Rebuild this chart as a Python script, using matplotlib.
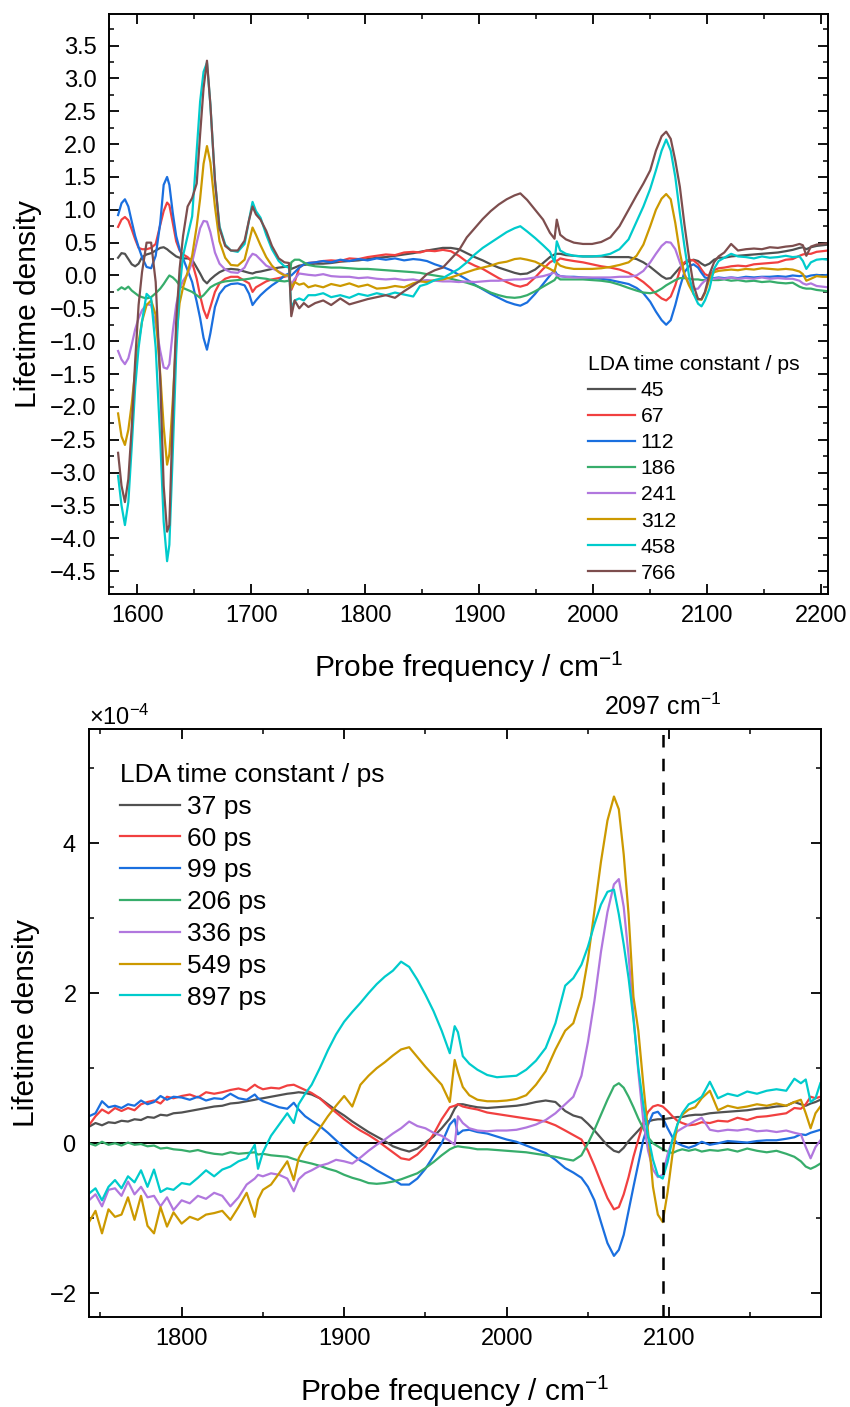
import numpy as np
import matplotlib
matplotlib.use("Agg")
import matplotlib.pyplot as plt
from matplotlib.ticker import MultipleLocator

plt.rcParams['font.family'] = ['Liberation Sans', 'DejaVu Sans']
plt.rcParams['mathtext.fontset'] = 'custom'
plt.rcParams['mathtext.rm'] = 'Liberation Sans'
plt.rcParams['mathtext.it'] = 'Liberation Sans:italic'

# ---------------- top panel data ----------------
freq_top = [1583, 1586, 1589, 1592, 1595, 1598, 1601, 1604, 1608, 1612, 1616, 1620, 1623, 1626, 1628,
            1631, 1634, 1637, 1640, 1644, 1648, 1652, 1655, 1658, 1661, 1664, 1668, 1672, 1677, 1682,
            1688, 1694, 1698, 1701, 1704, 1708, 1713, 1718, 1724, 1729, 1733, 1735, 1738, 1742, 1746,
            1750,
            1756, 1763, 1770, 1778, 1786, 1794, 1802, 1810, 1818, 1826, 1834, 1842, 1848, 1854, 1861,
            1868, 1875, 1882, 1889, 1896, 1903, 1910, 1917, 1924, 1931, 1936, 1942, 1949, 1956, 1962,
            1966, 1968, 1971, 1976, 1983, 1991, 1999, 2007, 2015, 2023, 2031, 2038, 2044, 2050, 2055,
            2060, 2064, 2068, 2072, 2076, 2080, 2084, 2088, 2092, 2095, 2098, 2102, 2106, 2110, 2115,
            2121, 2127, 2134, 2141, 2148, 2155, 2162, 2169, 2175, 2181, 2184, 2187, 2191, 2196, 2201,
            2206]

top_45 = [0.27, 0.34, 0.33, 0.25, 0.17, 0.14, 0.18, 0.28, 0.32, 0.34, 0.38, 0.42, 0.43, 0.40, 0.37,
          0.33, 0.29, 0.27, 0.26, 0.26, 0.24, 0.12, 0.03, -0.07, -0.12, -0.06, 0.00, 0.05, 0.09, 0.10,
          0.09, 0.06, 0.04, 0.03, 0.05, 0.06, 0.08, 0.10, 0.12, 0.13, 0.15, 0.10, 0.12, 0.15, 0.16,
          0.17,
          0.18, 0.18, 0.19, 0.21, 0.22, 0.23, 0.25, 0.27, 0.28, 0.30, 0.32, 0.34, 0.36, 0.38, 0.40,
          0.42, 0.42, 0.40, 0.34, 0.28, 0.23, 0.17, 0.12, 0.08, 0.04, 0.02, 0.03, 0.09, 0.19, 0.28,
          0.32, 0.33, 0.33, 0.31, 0.30, 0.29, 0.29, 0.29, 0.28, 0.28, 0.28, 0.25, 0.20, 0.13, 0.06,
          -0.01, -0.05, -0.04, 0.04, 0.12, 0.18, 0.22, 0.24, 0.22, 0.18, 0.15, 0.18, 0.24, 0.27, 0.27,
          0.29, 0.30, 0.31, 0.32, 0.33, 0.34, 0.35, 0.37, 0.39, 0.42, 0.43, 0.40, 0.43, 0.45, 0.46,
          0.47]
top_67 = [0.74, 0.85, 0.89, 0.84, 0.70, 0.55, 0.42, 0.40, 0.40, 0.42, 0.48, 0.77, 0.98, 1.11, 1.07,
          0.80, 0.52, 0.38, 0.32, 0.28, 0.20, -0.05, -0.31, -0.52, -0.65, -0.48, -0.25, -0.12, -0.05, -0.02,
          -0.02, -0.08, -0.12, -0.25, -0.18, -0.14, -0.09, -0.06, -0.04, -0.02, 0.00, -0.22, -0.10, 0.12, 0.17,
          0.19,
          0.20, 0.22, 0.23, 0.22, 0.26, 0.25, 0.28, 0.30, 0.32, 0.31, 0.35, 0.36, 0.35, 0.38, 0.37,
          0.39, 0.37, 0.30, 0.21, 0.15, 0.10, 0.03, -0.04, -0.10, -0.15, -0.17, -0.14, -0.03, 0.10, 0.20,
          0.24, 0.22, 0.26, 0.24, 0.22, 0.20, 0.17, 0.14, 0.12, 0.09, 0.04, -0.03, -0.10, -0.19, -0.28,
          -0.35, -0.38, -0.32, -0.15, 0.08, 0.20, 0.24, 0.23, 0.17, 0.09, 0.02, -0.01, 0.08, 0.11, 0.12,
          0.14, 0.15, 0.14, 0.17, 0.18, 0.19, 0.20, 0.24, 0.25, 0.30, 0.32, 0.33, 0.33, 0.36, 0.37,
          0.38]
top_112 = [0.92, 1.10, 1.16, 1.05, 0.82, 0.60, 0.43, 0.28, 0.13, 0.11, 0.30, 0.80, 1.38, 1.50, 1.38,
           0.95, 0.60, 0.40, 0.26, 0.08, -0.10, -0.40, -0.65, -0.95, -1.13, -0.88, -0.48, -0.28, -0.17, -0.13,
           -0.12, -0.15, -0.28, -0.45, -0.38, -0.30, -0.22, -0.15, -0.08, 0.00, 0.03, 0.00, 0.05, 0.12, 0.17,
           0.19,
           0.20, 0.22, 0.20, 0.24, 0.22, 0.25, 0.23, 0.26, 0.24, 0.26, 0.23, 0.25, 0.24, 0.22, 0.17,
           0.13, 0.08, 0.01, -0.06, -0.14, -0.21, -0.28, -0.34, -0.40, -0.44, -0.46, -0.41, -0.28, -0.13, 0.00,
           0.08, 0.02, -0.01, -0.02, -0.02, -0.03, -0.04, -0.05, -0.07, -0.10, -0.13, -0.19, -0.27, -0.40, -0.55,
           -0.68, -0.75, -0.68, -0.45, -0.18, 0.05, 0.14, 0.17, 0.12, 0.04, -0.03, -0.05, -0.04, -0.03, -0.04,
           -0.03, -0.04, -0.02, -0.03, -0.02, -0.02, -0.01, -0.02, 0.00, -0.01, 0.00, -0.02, 0.00, 0.01, 0.00,
           0.01]
top_186 = [-0.22, -0.18, -0.21, -0.17, -0.23, -0.27, -0.31, -0.33, -0.35, -0.33, -0.27, -0.20, -0.13, -0.05, 0.00,
           -0.03, -0.08, -0.15, -0.19, -0.22, -0.25, -0.30, -0.34, -0.30, -0.24, -0.18, -0.14, -0.11, -0.09, -0.08,
           -0.07, -0.06, -0.05, -0.04, -0.03, -0.04, -0.05, -0.07, -0.08, -0.09, -0.08, 0.20, 0.24, 0.24, 0.20,
           0.16,
           0.14, 0.13, 0.12, 0.12, 0.11, 0.10, 0.10, 0.09, 0.08, 0.07, 0.06, 0.05, 0.04, 0.02, 0.00,
           -0.02, -0.05, -0.08, -0.11, -0.15, -0.20, -0.26, -0.30, -0.33, -0.34, -0.33, -0.30, -0.24, -0.17, -0.11,
           -0.07, -0.02, -0.06, -0.06, -0.06, -0.06, -0.07, -0.08, -0.10, -0.14, -0.19, -0.23, -0.26, -0.27, -0.25,
           -0.20, -0.15, -0.11, -0.07, -0.04, -0.04, -0.05, -0.06, -0.06, -0.07, -0.07, -0.06, -0.07, -0.07, -0.06,
           -0.08, -0.07, -0.09, -0.08, -0.10, -0.09, -0.11, -0.12, -0.11, -0.17, -0.19, -0.20, -0.20, -0.22, -0.23,
           -0.24]
top_241 = [-1.15, -1.28, -1.35, -1.26, -1.05, -0.82, -0.65, -0.53, -0.44, -0.45, -0.75, -1.15, -1.40, -1.42, -1.35,
           -0.85, -0.45, -0.20, -0.08, 0.02, 0.20, 0.50, 0.72, 0.83, 0.82, 0.66, 0.35, 0.18, 0.09, 0.05,
           0.04, 0.12, 0.26, 0.33, 0.31, 0.24, 0.15, 0.11, 0.06, 0.01, -0.02, -0.14, -0.05, 0.03, 0.02,
           0.01,
           0.00, 0.02, -0.01, -0.02, -0.02, -0.04, -0.03, -0.05, -0.06, -0.05, -0.07, -0.06, -0.08, -0.07, -0.08,
           -0.09, -0.09, -0.10, -0.09, -0.10, -0.09, -0.08, -0.08, -0.07, -0.06, -0.06, -0.05, -0.03, -0.01, 0.02,
           0.05, 0.00, -0.01, -0.02, -0.03, -0.03, -0.03, -0.03, -0.03, -0.02, -0.02, 0.00, 0.07, 0.20, 0.33,
           0.45, 0.51, 0.50, 0.40, 0.20, 0.02, -0.12, -0.21, -0.20, -0.13, -0.08, -0.06, -0.05, -0.04, -0.05,
           -0.03, -0.05, -0.04, -0.05, -0.03, -0.05, -0.04, -0.05, -0.05, -0.08, -0.12, -0.14, -0.12, -0.16, -0.17,
           -0.18]
top_312 = [-2.10, -2.45, -2.58, -2.35, -1.95, -1.45, -1.02, -0.70, -0.45, -0.38, -0.60, -1.50, -2.30, -2.88, -2.72,
           -1.90, -0.95, -0.42, -0.18, 0.05, 0.30, 0.75, 1.17, 1.70, 1.97, 1.72, 1.05, 0.52, 0.27, 0.16,
           0.15, 0.24, 0.52, 0.73, 0.62, 0.46, 0.28, 0.15, 0.05, 0.00, 0.00, -0.19, -0.10, -0.14, -0.12,
           -0.18,
           -0.15, -0.18, -0.13, -0.16, -0.12, -0.17, -0.14, -0.20, -0.19, -0.16, -0.18, -0.12, -0.09, -0.10, -0.07,
           -0.06, -0.03, 0.01, 0.05, 0.09, 0.12, 0.15, 0.19, 0.21, 0.25, 0.26, 0.24, 0.21, 0.15, 0.10,
           0.06, 0.20, 0.15, 0.12, 0.10, 0.10, 0.10, 0.11, 0.13, 0.16, 0.20, 0.30, 0.47, 0.75, 1.00,
           1.17, 1.24, 1.16, 0.80, 0.35, 0.02, -0.15, -0.28, -0.36, -0.37, -0.27, -0.05, 0.05, 0.07, 0.08,
           0.09, 0.08, 0.10, 0.09, 0.11, 0.10, 0.09, 0.10, 0.09, 0.06, 0.02, -0.08, -0.05, -0.01, -0.02,
           -0.02]
top_458 = [-3.05, -3.50, -3.80, -3.45, -2.60, -1.70, -1.10, -0.70, -0.28, -0.35, -1.10, -2.50, -3.75, -4.35, -4.10,
           -2.70, -1.20, -0.20, 0.30, 0.60, 0.90, 1.90, 2.65, 3.10, 3.24, 2.60, 1.45, 0.75, 0.47, 0.38,
           0.36, 0.48, 0.85, 1.12, 0.98, 0.88, 0.62, 0.40, 0.22, 0.14, 0.12, -0.50, -0.38, -0.35, -0.38,
           -0.30,
           -0.30, -0.27, -0.33, -0.30, -0.34, -0.28, -0.31, -0.27, -0.30, -0.26, -0.29, -0.32, -0.16, -0.13, -0.07,
           -0.04, 0.03, 0.10, 0.20, 0.32, 0.42, 0.50, 0.58, 0.66, 0.72, 0.75, 0.67, 0.57, 0.46, 0.36,
           0.20, 0.52, 0.38, 0.33, 0.30, 0.29, 0.29, 0.30, 0.33, 0.40, 0.55, 0.82, 1.05, 1.32, 1.60,
           1.90, 2.07, 1.90, 1.50, 0.95, 0.45, 0.00, -0.28, -0.43, -0.47, -0.38, -0.20, 0.10, 0.22, 0.27,
           0.33, 0.29, 0.28, 0.26, 0.29, 0.27, 0.28, 0.30, 0.28, 0.29, 0.22, 0.10, 0.20, 0.24, 0.25,
           0.24]
top_766 = [-2.70, -3.20, -3.45, -3.10, -2.30, -1.30, -0.45, 0.05, 0.50, 0.50, -0.10, -1.60, -3.20, -3.90, -3.80,
           -2.10, -0.70, 0.10, 0.60, 1.05, 1.18, 1.40, 2.15, 2.85, 3.27, 2.60, 1.45, 0.72, 0.45, 0.38,
           0.38, 0.53, 0.85, 1.05, 0.93, 0.85, 0.68, 0.45, 0.26, 0.20, 0.19, -0.62, -0.38, -0.50, -0.42,
           -0.48,
           -0.42, -0.38, -0.45, -0.35, -0.44, -0.40, -0.36, -0.33, -0.30, -0.34, -0.24, -0.15, -0.08, 0.02, 0.08,
           0.12, 0.25, 0.38, 0.58, 0.72, 0.86, 0.98, 1.08, 1.16, 1.22, 1.25, 1.15, 1.00, 0.85, 0.65,
           0.56, 0.85, 0.62, 0.55, 0.50, 0.48, 0.48, 0.51, 0.58, 0.75, 1.00, 1.22, 1.40, 1.60, 1.90,
           2.12, 2.19, 2.08, 1.75, 1.35, 0.78, 0.28, -0.15, -0.36, -0.36, -0.25, 0.02, 0.20, 0.29, 0.35,
           0.48, 0.38, 0.40, 0.41, 0.40, 0.43, 0.42, 0.44, 0.45, 0.48, 0.46, 0.30, 0.44, 0.47, 0.48,
           0.49]

top_labels = ['45', '67', '112', '186', '241', '312', '458', '766']

# ---------------- bottom panel data (units of 1e-4) ----------------
freq_bot = [1743, 1747, 1751, 1755, 1759, 1763, 1767, 1771, 1775, 1779, 1783, 1787, 1791, 1795, 1800,
            1805, 1810, 1815, 1820, 1825, 1830, 1835, 1840, 1845, 1847, 1850, 1855, 1860, 1865, 1869,
            1872, 1876, 1880, 1885, 1890, 1895, 1900, 1905, 1910, 1915, 1920, 1925, 1930, 1935, 1940,
            1945, 1950, 1955, 1960, 1965, 1968, 1970, 1973, 1977, 1982, 1988, 1994, 2000, 2006, 2012,
            2018, 2024, 2030, 2036, 2041, 2046, 2050, 2054, 2058, 2062, 2066, 2069, 2072, 2075, 2078,
            2081, 2084, 2087, 2090, 2093, 2096, 2099, 2102, 2105, 2108, 2112, 2116, 2120, 2125, 2130,
            2136, 2142, 2148, 2154, 2160, 2166, 2172, 2177, 2181, 2184, 2187, 2190, 2193]

bot_37 = [0.22, 0.27, 0.24, 0.28, 0.27, 0.30, 0.29, 0.32, 0.31, 0.35, 0.34, 0.38, 0.37, 0.40, 0.41,
          0.43, 0.45, 0.47, 0.49, 0.50, 0.53, 0.54, 0.56, 0.58, 0.59, 0.60, 0.62, 0.64, 0.66, 0.67,
          0.68, 0.67, 0.65, 0.60, 0.52, 0.44, 0.37, 0.29, 0.22, 0.15, 0.09, 0.03, -0.04, -0.08, -0.11,
          -0.07, 0.01, 0.09, 0.20, 0.33, 0.46, 0.52, 0.52, 0.50, 0.48, 0.47, 0.48, 0.49, 0.50, 0.52,
          0.55, 0.57, 0.55, 0.43, 0.37, 0.34, 0.26, 0.17, 0.07, -0.03, -0.10, -0.12, -0.06, 0.03, 0.10,
          0.17, 0.24, 0.29, 0.31, 0.32, 0.32, 0.33, 0.34, 0.35, 0.35, 0.37, 0.38, 0.38, 0.40, 0.41,
          0.42, 0.43, 0.44, 0.46, 0.47, 0.49, 0.50, 0.55, 0.52, 0.50, 0.53, 0.55, 0.58]
bot_60 = [0.24, 0.36, 0.45, 0.40, 0.47, 0.43, 0.47, 0.44, 0.52, 0.55, 0.57, 0.53, 0.62, 0.60, 0.63,
          0.65, 0.61, 0.68, 0.66, 0.68, 0.71, 0.73, 0.70, 0.78, 0.75, 0.72, 0.74, 0.73, 0.77, 0.78,
          0.75, 0.71, 0.67, 0.60, 0.50, 0.41, 0.32, 0.24, 0.17, 0.11, 0.04, -0.04, -0.12, -0.20, -0.22,
          -0.15, -0.04, 0.12, 0.32, 0.48, 0.50, 0.52, 0.49, 0.47, 0.45, 0.41, 0.39, 0.37, 0.35, 0.33,
          0.31, 0.29, 0.24, 0.17, 0.11, 0.05, -0.10, -0.30, -0.52, -0.73, -0.88, -0.85, -0.68, -0.45, -0.18,
          0.05, 0.27, 0.42, 0.49, 0.51, 0.49, 0.43, 0.36, 0.30, 0.27, 0.24, 0.25, 0.28, 0.27, 0.30,
          0.29, 0.34, 0.31, 0.35, 0.36, 0.38, 0.40, 0.47, 0.46, 0.52, 0.62, 0.60, 0.62]
bot_99 = [0.36, 0.40, 0.56, 0.48, 0.50, 0.47, 0.52, 0.50, 0.57, 0.52, 0.55, 0.63, 0.58, 0.62, 0.61,
          0.58, 0.62, 0.57, 0.60, 0.59, 0.66, 0.60, 0.58, 0.65, 0.60, 0.56, 0.52, 0.48, 0.46, 0.54,
          0.45, 0.36, 0.30, 0.23, 0.14, 0.04, -0.06, -0.15, -0.23, -0.29, -0.36, -0.42, -0.48, -0.55, -0.55,
          -0.47, -0.34, -0.17, 0.00, 0.25, 0.32, 0.12, 0.17, 0.18, 0.15, 0.13, 0.09, 0.05, 0.02, -0.03,
          -0.08, -0.13, -0.22, -0.33, -0.39, -0.46, -0.58, -0.76, -1.05, -1.33, -1.50, -1.42, -1.22, -0.90, -0.58,
          -0.27, 0.04, 0.25, 0.40, 0.42, 0.34, 0.20, 0.08, 0.00, -0.03, -0.06, -0.03, 0.02, -0.02, 0.00,
          0.03, 0.02, 0.01, 0.03, 0.04, 0.04, 0.06, 0.08, 0.12, 0.11, 0.14, 0.16, 0.18]
bot_206 = [0.00, -0.03, 0.02, -0.02, 0.00, -0.03, 0.01, -0.02, -0.01, -0.04, -0.03, -0.07, -0.06, -0.08, -0.09,
           -0.11, -0.09, -0.12, -0.14, -0.15, -0.12, -0.14, -0.13, -0.12, -0.15, -0.14, -0.16, -0.17, -0.18, -0.21,
           -0.23, -0.25, -0.27, -0.30, -0.34, -0.37, -0.42, -0.46, -0.49, -0.53, -0.54, -0.53, -0.51, -0.48, -0.44,
           -0.40, -0.33, -0.25, -0.16, -0.08, -0.05, -0.04, -0.05, -0.06, -0.08, -0.08, -0.09, -0.10, -0.11, -0.12,
           -0.14, -0.16, -0.18, -0.21, -0.23, -0.16, 0.00, 0.18, 0.38, 0.58, 0.76, 0.80, 0.74, 0.62, 0.48,
           0.33, 0.20, 0.08, 0.00, -0.04, -0.08, -0.11, -0.13, -0.10, -0.08, -0.10, -0.08, -0.11, -0.09, -0.10,
           -0.08, -0.11, -0.07, -0.10, -0.12, -0.10, -0.14, -0.18, -0.24, -0.31, -0.34, -0.31, -0.27]
bot_336 = [-0.76, -0.68, -0.84, -0.62, -0.60, -0.70, -0.51, -0.68, -0.58, -0.72, -0.70, -0.84, -0.72, -0.89, -0.76,
           -0.80, -0.70, -0.74, -0.66, -0.70, -0.84, -0.72, -0.55, -0.47, -0.42, -0.44, -0.40, -0.42, -0.47, -0.64,
           -0.48, -0.40, -0.36, -0.30, -0.27, -0.22, -0.24, -0.27, -0.19, -0.10, -0.02, 0.05, 0.13, 0.20, 0.29,
           0.23, 0.20, 0.14, 0.10, 0.03, -0.02, 0.36, 0.27, 0.20, 0.17, 0.16, 0.17, 0.17, 0.18, 0.21,
           0.25, 0.31, 0.40, 0.52, 0.62, 0.90, 1.35, 1.90, 2.55, 3.08, 3.45, 3.52, 3.15, 2.50, 1.70,
           0.95, 0.31, -0.10, -0.35, -0.45, -0.42, -0.15, 0.05, 0.16, 0.20, 0.25, 0.30, 0.34, 0.18, 0.16,
           0.18, 0.17, 0.19, 0.16, 0.17, 0.15, 0.17, 0.14, 0.12, -0.05, -0.20, -0.05, 0.04]
bot_549 = [-1.05, -0.90, -1.20, -0.88, -0.98, -0.95, -0.72, -1.02, -0.70, -1.10, -1.20, -0.85, -1.11, -0.92, -1.07,
           -0.98, -1.02, -0.95, -0.93, -0.90, -1.02, -0.85, -0.66, -0.98, -0.75, -0.62, -0.55, -0.40, -0.24, -0.49,
           -0.20, -0.04, 0.04, 0.20, 0.36, 0.50, 0.63, 0.49, 0.78, 0.90, 1.00, 1.08, 1.17, 1.25, 1.28,
           1.15, 1.02, 0.90, 0.78, 0.55, 1.11, 0.95, 0.75, 0.64, 0.58, 0.56, 0.56, 0.57, 0.59, 0.64,
           0.78, 0.96, 1.25, 1.50, 1.60, 1.95, 2.45, 3.10, 3.75, 4.30, 4.62, 4.45, 3.85, 3.05, 1.95,
           1.50, 0.80, 0.15, -0.58, -0.95, -1.05, -0.65, -0.15, 0.25, 0.38, 0.45, 0.48, 0.60, 0.70, 0.44,
           0.50, 0.47, 0.49, 0.52, 0.50, 0.53, 0.50, 0.55, 0.58, 0.40, 0.20, 0.40, 0.49]
bot_897 = [-0.67, -0.60, -0.76, -0.58, -0.49, -0.60, -0.44, -0.52, -0.36, -0.58, -0.35, -0.65, -0.60, -0.62, -0.53,
           -0.55, -0.46, -0.36, -0.44, -0.35, -0.31, -0.24, -0.20, -0.02, -0.34, -0.12, 0.10, 0.25, 0.40, 0.27,
           0.52, 0.66, 0.78, 1.00, 1.24, 1.45, 1.62, 1.75, 1.87, 2.00, 2.12, 2.22, 2.30, 2.42, 2.35,
           2.18, 1.98, 1.76, 1.50, 1.20, 1.56, 1.48, 1.16, 1.06, 0.98, 0.91, 0.88, 0.89, 0.90, 0.98,
           1.10, 1.27, 1.60, 2.10, 2.20, 2.38, 2.62, 2.92, 3.18, 3.35, 3.38, 3.05, 2.65, 2.20, 1.65,
           1.00, 0.52, 0.10, -0.22, -0.43, -0.47, -0.25, 0.05, 0.25, 0.40, 0.52, 0.56, 0.62, 0.82, 0.60,
           0.66, 0.63, 0.69, 0.66, 0.70, 0.72, 0.70, 0.86, 0.80, 0.85, 0.55, 0.60, 0.80]

bot_labels = ['37 ps', '60 ps', '99 ps', '206 ps', '336 ps', '549 ps', '897 ps']
marker_freq = 2096
marker_label = '2097 cm$^{-1}$'

colors = ['#515151', '#F14040', '#1A6FDF', '#37AD6B', '#B177DE', '#CC9900', '#00CBCC', '#7D4E4E']

fig = plt.figure(figsize=(8.5, 14.07), dpi=100)
ax1 = fig.add_axes([0.1282, 0.5778, 0.8459, 0.4122])
ax2 = fig.add_axes([0.1047, 0.0642, 0.8612, 0.4177])

# top panel
top_series = [top_45, top_67, top_112, top_186, top_241, top_312, top_458, top_766]
for vals, lab, c in zip(top_series, top_labels, colors):
    ax1.plot(freq_top, vals, color=c, lw=1.6, label=lab)

ax1.set_xlim(1575, 2206)
ax1.set_ylim(-4.85, 3.98)
ax1.xaxis.set_major_locator(MultipleLocator(100))
ax1.xaxis.set_minor_locator(MultipleLocator(50))
ax1.yaxis.set_major_locator(MultipleLocator(0.5))
ax1.yaxis.set_minor_locator(MultipleLocator(0.25))
ax1.set_xlabel('Probe frequency / cm$^{-1}$', fontsize=21.5)
ax1.set_ylabel('Lifetime density', fontsize=21.5)
ax1.xaxis.set_label_coords(0.5, -0.097)
ax1.yaxis.set_label_coords(-0.093, 0.5)

ax1.legend(title='LDA time constant / ps', loc='upper left', bbox_to_anchor=(0.666, 0.412),
           frameon=False, fontsize=15.2, title_fontsize=15.2, handlelength=2.23,
           handletextpad=0.28, labelspacing=0.335, borderpad=0, borderaxespad=0, alignment='left')

# bottom panel
bot_series = [bot_37, bot_60, bot_99, bot_206, bot_336, bot_549, bot_897]
ax2.axhline(0, color='black', lw=1.4, zorder=1)
for vals, lab, c in zip(bot_series, bot_labels, colors):
    ax2.plot(freq_bot, np.array(vals) * 1e-4, color=c, lw=1.6, label=lab, zorder=2)
ax2.axvline(marker_freq, color='black', lw=1.8, dashes=(5, 4.5), zorder=3)
ax2.text(marker_freq, 5.52e-4 + 0.19e-4, marker_label, ha='center', va='baseline', fontsize=18)

ax2.set_xlim(1743, 2193.4)
ax2.set_ylim(-2.31e-4, 5.52e-4)
ax2.xaxis.set_major_locator(MultipleLocator(100))
ax2.xaxis.set_minor_locator(MultipleLocator(50))
ax2.yaxis.set_major_locator(MultipleLocator(2e-4))
ax2.yaxis.set_minor_locator(MultipleLocator(1e-4))
ax2.ticklabel_format(axis='y', style='sci', scilimits=(0, 0), useMathText=True)
ax2.yaxis.get_offset_text().set_fontsize(17)
ax2.set_xlabel('Probe frequency / cm$^{-1}$', fontsize=21.5)
ax2.set_ylabel('Lifetime density', fontsize=21.5)
ax2.xaxis.set_label_coords(0.5, -0.097)
ax2.yaxis.set_label_coords(-0.067, 0.5)

ax2.legend(title='LDA time constant / ps', loc='upper left', bbox_to_anchor=(0.043, 0.942),
           frameon=False, fontsize=19, title_fontsize=19, handlelength=2.24,
           handletextpad=0.27, labelspacing=0.295, borderpad=0, borderaxespad=0, alignment='left')

for ax in (ax1, ax2):
    ax.tick_params(which='both', direction='in', top=True, right=True, labelsize=17)
    ax.tick_params(which='major', length=7, width=1.3)
    ax.tick_params(which='minor', length=3.5, width=1.1)
    ax.tick_params(axis='x', which='both', pad=8)
    ax.tick_params(axis='y', which='both', pad=9)
    for s in ax.spines.values():
        s.set_linewidth(1.4)

fig.savefig('out.png', dpi=100)
